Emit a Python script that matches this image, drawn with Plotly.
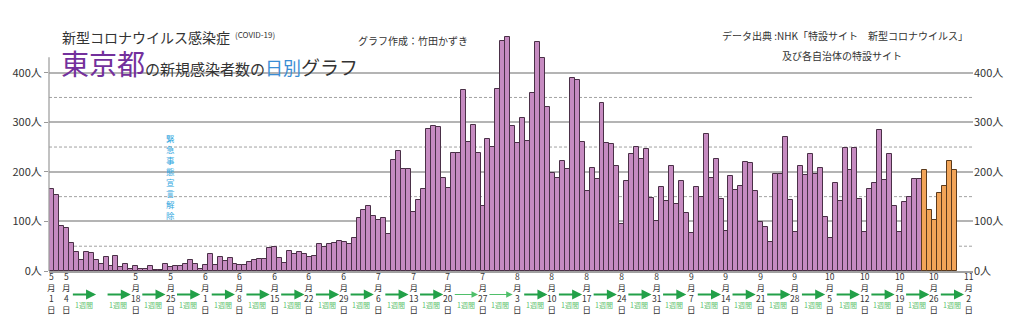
import pandas as pd
import plotly.graph_objects as go

# ---- data -------------------------------------------------------------
start_date = "2020-05-01"
daily_cases = [
    # May
    165, 154, 91, 87, 57, 38, 23, 39, 36, 22, 15, 28, 10, 30, 9, 14, 5, 10, 5, 5,
    11, 3, 2, 14, 8, 10, 11, 15, 22, 14, 5,
    # June
    13, 34, 12, 28, 20, 26, 14, 13, 12, 18, 22, 25, 24, 47, 48, 27, 16, 41, 35, 39,
    35, 29, 31, 55, 48, 54, 57, 60, 58, 54,
    # July
    67, 107, 124, 131, 111, 102, 106, 75, 224, 243, 206, 206, 119, 143, 165, 286, 293, 290, 188, 168,
    237, 238, 366, 260, 295, 239, 131, 266, 250, 367, 463,
    # August
    472, 292, 258, 309, 263, 360, 462, 429, 331, 197, 188, 222, 206, 389, 385, 260, 161, 207, 186, 339,
    258, 256, 212, 95, 182, 236, 250, 226, 247, 148, 100,
    # September
    170, 141, 211, 136, 181, 116, 77, 170, 149, 276, 187, 226, 146, 80, 191, 163, 172, 220, 218, 162,
    98, 88, 59, 195, 195, 270, 144, 78, 212, 194,
    # October
    235, 196, 207, 108, 66, 177, 142, 248, 203, 249, 146, 78, 166, 177, 284, 184, 235, 132, 78, 139,
    150, 185, 186, 203, 124, 102, 158, 171, 221, 203,
]
highlight_from = "2020-10-24"          # latest week drawn in orange

y_tick_values = [0, 100, 200, 300, 400]
y_tick_labels = ["0人", "100人", "200人", "300人", "400人"]
y_dash_values = [50, 150, 250, 350]

label_dates = [
    "2020-05-01", "2020-05-04", "2020-05-18", "2020-05-25", "2020-06-01", "2020-06-08",
    "2020-06-15", "2020-06-22", "2020-06-29", "2020-07-06", "2020-07-13", "2020-07-20",
    "2020-07-27", "2020-08-03", "2020-08-10", "2020-08-17", "2020-08-24", "2020-08-31",
    "2020-09-07", "2020-09-14", "2020-09-21", "2020-09-28", "2020-10-05", "2020-10-12",
    "2020-10-19", "2020-10-26", "2020-11-02",
]
week_first = "2020-05-04"
week_last = "2020-10-26"
thin_weeks = ["2020-07-20", "2020-07-27"]
week_text = "1週間"

lift_date = "2020-05-25"
lift_text = "緊急事態宣言解除"

# ---- layout geometry (pixels) ----------------------------------------
W, H = 1024, 331
L, R, T, B = 47, 973, 33, 271
FONT = "Noto Sans CJK JP"


def px_x(px):
    return (px - L) / (R - L)


def px_y(py):
    return (B - py) / (B - T)


dates = pd.date_range(start_date, periods=len(daily_cases), freq="D")
hl = pd.Timestamp(highlight_from)
fill = ["#f2a458" if d >= hl else "#c68bc1" for d in dates]
edge = ["#5a3a1c" if d >= hl else "#4a3047" for d in dates]

fig = go.Figure()
fig.add_trace(go.Bar(
    x=dates, y=daily_cases,
    marker=dict(color=fill, line=dict(color=edge, width=1)),
    showlegend=False, hoverinfo="x+y",
))
# invisible trace so the right-hand axis is rendered
fig.add_trace(go.Scatter(x=[dates[0]], y=[0], yaxis="y2", mode="markers",
                         marker=dict(opacity=0), showlegend=False, hoverinfo="skip"))

x_start = pd.Timestamp(start_date) - pd.Timedelta(hours=12)
x_end = pd.Timestamp(start_date) + pd.Timedelta(days=185.8)

fig.update_layout(
    width=W, height=H,
    margin=dict(l=L, r=W - R, t=T, b=H - B),
    paper_bgcolor="white", plot_bgcolor="white",
    bargap=0,
    font=dict(family=FONT, color="#333333", size=11),
    xaxis=dict(type="date", range=[x_start, x_end], showticklabels=False,
               showgrid=False, zeroline=False, ticks="",
               showline=True, linecolor="#a0a0a0", linewidth=1.5),
    yaxis=dict(range=[0, 480], tickvals=y_tick_values, ticktext=y_tick_labels,
               ticks="outside", ticklen=4, tickcolor="#999999", tickwidth=1,
               showgrid=True, gridcolor="#b4b4b4", gridwidth=1.5,
               zeroline=False, showline=False,
               tickfont=dict(size=11, color="#333333")),
    yaxis2=dict(range=[0, 480], overlaying="y", side="right",
                tickvals=y_tick_values, ticktext=y_tick_labels,
                ticks="", showgrid=False, zeroline=False, showline=False,
                tickfont=dict(size=11, color="#333333")),
)

shapes = []
for v in y_dash_values:
    shapes.append(dict(type="line", xref="paper", yref="y", x0=0, x1=1, y0=v, y1=v,
                       line=dict(color="#8a8a8a", width=0.8, dash="3px,2px"), layer="between"))
# white band behind the main title, interrupting the 400 gridline
shapes.append(dict(type="rect", xref="paper", yref="y", x0=px_x(55), x1=px_x(362),
                   y0=392, y1=408, fillcolor="white", line=dict(width=0), layer="between"))
# left vertical axis line
shapes.append(dict(type="line", xref="paper", yref="y", x0=0, x1=0, y0=0, y1=431,
                   line=dict(color="#999999", width=1.2), layer="above"))
fig.update_layout(shapes=shapes)

ann = []

# titles
ann.append(dict(text="新型コロナウイルス感染症", xref="paper", yref="paper",
                x=px_x(58), y=px_y(37), xanchor="left", yanchor="middle",
                showarrow=False, font=dict(size=14, color="#333333")))
ann.append(dict(text="(COVID-19)", xref="paper", yref="paper",
                x=px_x(231), y=px_y(35), xanchor="left", yanchor="middle",
                showarrow=False, font=dict(size=8, color="#333333")))
ann.append(dict(
    text=('<span style="color:#73309c;font-size:28px">東京都</span>'
          '<span style="font-size:15px">の新規感染者数の</span>'
          '<span style="color:#3a8dd4;font-size:18px">日別</span>'
          '<span style="font-size:19px">グラフ</span>'),
    xref="paper", yref="paper", x=px_x(57), y=px_y(63),
    xanchor="left", yanchor="middle", showarrow=False,
    font=dict(size=15, color="#333333")))
ann.append(dict(text="グラフ作成：竹田かずき", xref="paper", yref="paper",
                x=px_x(355), y=px_y(40), xanchor="left", yanchor="middle",
                showarrow=False, font=dict(size=10, color="#333333")))
ann.append(dict(text="データ出典 :NHK「特設サイト　新型コロナウイルス」", xref="paper", yref="paper",
                x=px_x(719), y=px_y(36), xanchor="left", yanchor="middle",
                showarrow=False, font=dict(size=10, color="#333333")))
ann.append(dict(text="及び各自治体の特設サイト", xref="paper", yref="paper",
                x=px_x(780), y=px_y(55), xanchor="left", yanchor="middle",
                showarrow=False, font=dict(size=10, color="#333333")))

# vertical note for the lifting of the state of emergency
ann.append(dict(text="<br>".join(lift_text), xref="x", yref="paper", x=lift_date,
                y=px_y(176), xanchor="center", yanchor="middle", showarrow=False,
                font=dict(size=8.5, color="#33a8e0")))

# stacked date labels under the axis
for d in label_dates:
    ts = pd.Timestamp(d)
    label = "<br>".join([str(ts.month), "月", str(ts.day), "日"])
    ann.append(dict(text=label, xref="x", yref="paper", x=d, y=px_y(292.5),
                    xanchor="center", yanchor="middle", showarrow=False,
                    font=dict(size=8.5, color="#333333")))

# weekly arrows
for ws in pd.date_range(week_first, week_last, freq="7D"):
    we = ws + pd.Timedelta(days=7)
    thin = ws.strftime("%Y-%m-%d") in thin_weeks
    ann.append(dict(text="", xref="x", yref="paper", x=we, y=px_y(294.5),
                    axref="x", ayref="pixel", ax=ws, ay=0,
                    showarrow=True, arrowhead=2, arrowsize=1 if not thin else 1.3,
                    arrowwidth=1 if thin else 2,
                    arrowcolor="#4fbf6a" if thin else "#22a048",
                    standoff=5, startstandoff=5))
    ann.append(dict(text=week_text, xref="x", yref="paper",
                    x=ws + pd.Timedelta(hours=84), y=px_y(305),
                    xanchor="center", yanchor="middle", showarrow=False,
                    font=dict(size=7, color="#5cbf6c")))

fig.update_layout(annotations=ann)
fig.write_html("out.html")
